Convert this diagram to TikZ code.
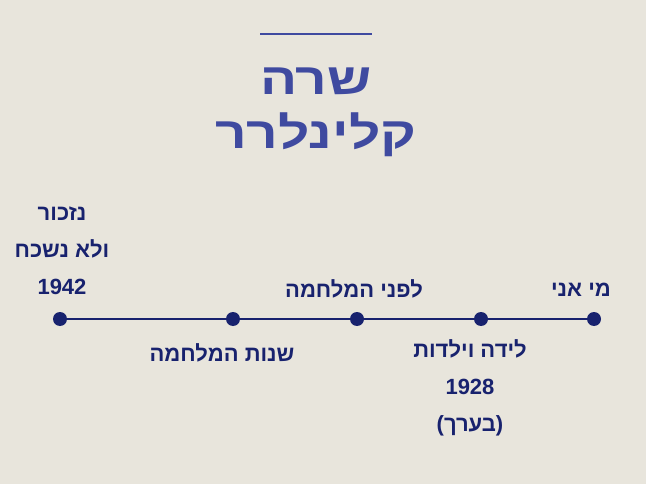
\documentclass[tikz,border=0pt]{standalone}
\usepackage{fontspec}
\setmainfont{Liberation Sans}
\newfontfamily\hebfont[Script=Hebrew]{Liberation Sans}
\TeXXeTstate=1
\usetikzlibrary{positioning}
\definecolor{bgcol}{RGB}{232,229,220}
\definecolor{titlecol}{RGB}{63,74,160}
\definecolor{navycol}{RGB}{24,34,110}
\def\rdot{14pt}
\newcommand{\heb}[1]{\beginR #1\endR}
\newcommand{\wideheb}[1]{\scalebox{1.25}[1]{\heb{#1}}}
\tikzset{
	stop/.style={circle,fill=navycol,inner sep=0pt,minimum size=\rdot},
	stoptext/.style={text=navycol,align=center,inner sep=0pt,
		font=\hebfont\bfseries\fontsize{22}{37}\selectfont},
	titletext/.style={text=titlecol,align=center,inner sep=0pt,
		font=\hebfont\bfseries\fontsize{44}{54}\selectfont}}

\begin{document}
\begin{tikzpicture}[x=1pt,y=-1pt]
\fill[bgcol] (0,0) rectangle (646,484);
\useasboundingbox (0,0) rectangle (646,484);
% title
\coordinate (barl) at (260,34);
\coordinate (barr) at (372,34);
\draw[titlecol,line width=2pt] (barl) -- (barr);
\node[titletext] (title) at (316,112) {\wideheb{שרה}\\\wideheb{קלינלרר}};
% timeline
\node[stop] (s1) at (594,319) {};
\node[stop] (s2) at (481,319) {};
\node[stop] (s3) at (357,319) {};
\node[stop] (s4) at (233,319) {};
\node[stop] (s5) at (60,319) {};
\draw[navycol,line width=2pt] (s1) -- (s2) -- (s3) -- (s4) -- (s5);
% labels
\node[stoptext] (t1) at (581,290) {\heb{מי אני}};
\node[stoptext] (t2) at (470,388) {\heb{לידה וילדות}\\1928\\\heb{(בערך)}};
\node[stoptext] (t3) at (354,289) {\heb{לפני המלחמה}};
\node[stoptext] (t4) at (222,353) {\heb{שנות המלחמה}};
\node[stoptext] (t5) at (62,251) {\heb{נזכור}\\\heb{ולא נשכח}\\1942};
\end{tikzpicture}
\end{document}
